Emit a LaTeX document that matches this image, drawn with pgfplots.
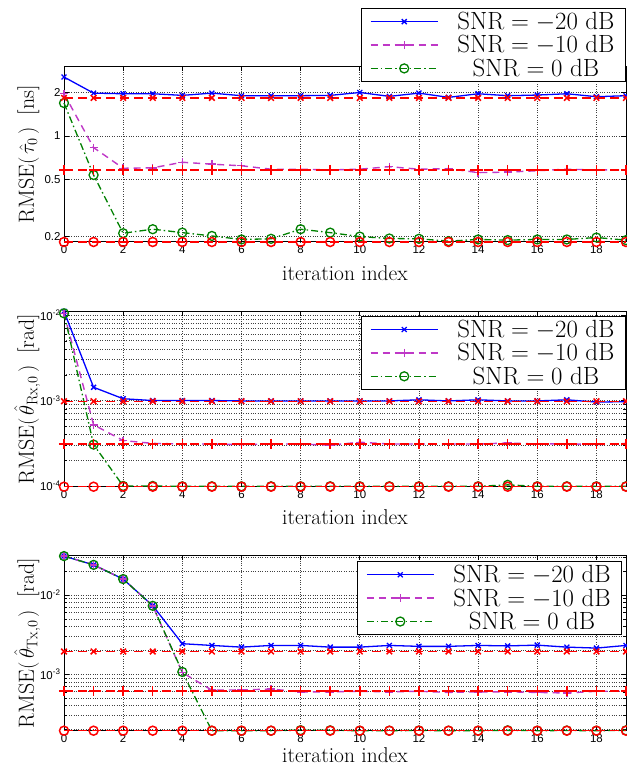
\documentclass[border=0pt]{standalone}
\usepackage{fontspec}
\usepackage{pgfplots}
\usepackage{pgfplotstable}
\pgfplotsset{compat=1.18}
\newfontfamily\tickfont{Liberation Sans}
\definecolor{mblue}{rgb}{0,0,1}
\definecolor{mmag}{rgb}{0.75,0.22,0.78}
\definecolor{mgreen}{rgb}{0,0.5,0}
\definecolor{mred}{rgb}{1,0,0}

\pgfplotstableread{
x b m g r1 r2 r3
0 2.56 1.96 1.69 1.834 0.580 0.1834
1 1.98 0.829 0.535 1.834 0.580 0.1834
2 1.96 0.596 0.211 1.834 0.580 0.1834
3 1.96 0.600 0.225 1.834 0.580 0.1834
4 1.91 0.656 0.213 1.834 0.580 0.1834
5 1.98 0.636 0.202 1.834 0.580 0.1834
6 1.90 0.620 0.191 1.834 0.580 0.1834
7 1.90 0.587 0.193 1.834 0.580 0.1834
8 1.90 0.587 0.225 1.834 0.580 0.1834
9 1.91 0.580 0.213 1.834 0.580 0.1834
10 2.00 0.587 0.200 1.834 0.580 0.1834
11 1.88 0.611 0.194 1.834 0.580 0.1834
12 1.98 0.587 0.193 1.834 0.580 0.1834
13 1.85 0.592 0.186 1.834 0.580 0.1834
14 1.96 0.556 0.191 1.834 0.580 0.1834
15 1.90 0.560 0.189 1.834 0.580 0.1834
16 1.92 0.573 0.191 1.834 0.580 0.1834
17 1.96 0.587 0.191 1.834 0.580 0.1834
18 1.87 0.580 0.197 1.834 0.580 0.1834
19 1.90 0.580 0.189 1.834 0.580 0.1834
}\tA

\pgfplotstableread{
x b m g r1 r2 r3
0 0.0111 0.0105 0.0105 9.8e-4 3.1e-4 9.8e-5
1 1.43e-3 5.2e-4 3.05e-4 9.8e-4 3.1e-4 9.8e-5
2 1.05e-3 3.4e-4 1.0e-4 9.8e-4 3.1e-4 9.8e-5
3 1.0e-3 3.15e-4 1.0e-4 9.8e-4 3.1e-4 9.8e-5
4 1.0e-3 3.1e-4 0.99e-4 9.8e-4 3.1e-4 9.8e-5
5 1.0e-3 3.1e-4 0.99e-4 9.8e-4 3.1e-4 9.8e-5
6 0.99e-3 3.05e-4 0.99e-4 9.8e-4 3.1e-4 9.8e-5
7 0.99e-3 3.1e-4 0.99e-4 9.8e-4 3.1e-4 9.8e-5
8 0.99e-3 3.1e-4 0.99e-4 9.8e-4 3.1e-4 9.8e-5
9 0.99e-3 3.0e-4 0.99e-4 9.8e-4 3.1e-4 9.8e-5
10 0.99e-3 3.25e-4 0.99e-4 9.8e-4 3.1e-4 9.8e-5
11 0.99e-3 3.1e-4 0.99e-4 9.8e-4 3.1e-4 9.8e-5
12 1.02e-3 3.1e-4 0.99e-4 9.8e-4 3.1e-4 9.8e-5
13 0.99e-3 3.1e-4 0.99e-4 9.8e-4 3.1e-4 9.8e-5
14 1.02e-3 3.1e-4 0.99e-4 9.8e-4 3.1e-4 9.8e-5
15 0.99e-3 3.18e-4 1.03e-4 9.8e-4 3.1e-4 9.8e-5
16 0.99e-3 3.1e-4 0.99e-4 9.8e-4 3.1e-4 9.8e-5
17 1.02e-3 3.12e-4 0.99e-4 9.8e-4 3.1e-4 9.8e-5
18 0.96e-3 3.05e-4 0.99e-4 9.8e-4 3.1e-4 9.8e-5
19 0.97e-3 3.15e-4 0.99e-4 9.8e-4 3.1e-4 9.8e-5
}\tB

\pgfplotstableread{
x b m g r1 r2 r3
0 0.031 0.031 0.031 1.94e-3 6.13e-4 1.94e-4
1 0.024 0.024 0.024 1.94e-3 6.13e-4 1.94e-4
2 0.0159 0.0159 0.0159 1.94e-3 6.13e-4 1.94e-4
3 0.00734 0.0073 0.0073 1.94e-3 6.13e-4 1.94e-4
4 0.00243 0.00105 0.00107 1.94e-3 6.13e-4 1.94e-4
5 0.00231 6.3e-4 1.94e-4 1.94e-3 6.13e-4 1.94e-4
6 0.00220 6.35e-4 1.94e-4 1.94e-3 6.13e-4 1.94e-4
7 0.00231 6.5e-4 1.94e-4 1.94e-3 6.13e-4 1.94e-4
8 0.00231 6.0e-4 1.97e-4 1.94e-3 6.13e-4 1.94e-4
9 0.00220 6.0e-4 1.96e-4 1.94e-3 6.13e-4 1.94e-4
10 0.00220 6.1e-4 1.94e-4 1.94e-3 6.13e-4 1.94e-4
11 0.00231 6.0e-4 1.94e-4 1.94e-3 6.13e-4 1.94e-4
12 0.00225 6.1e-4 1.95e-4 1.94e-3 6.13e-4 1.94e-4
13 0.00225 5.9e-4 1.94e-4 1.94e-3 6.13e-4 1.94e-4
14 0.00231 6.0e-4 1.94e-4 1.94e-3 6.13e-4 1.94e-4
15 0.00228 6.0e-4 1.96e-4 1.94e-3 6.13e-4 1.94e-4
16 0.00233 5.9e-4 1.94e-4 1.94e-3 6.13e-4 1.94e-4
17 0.00220 5.8e-4 1.95e-4 1.94e-3 6.13e-4 1.94e-4
18 0.00214 6.1e-4 1.94e-4 1.94e-3 6.13e-4 1.94e-4
19 0.00231 6.1e-4 1.96e-4 1.94e-3 6.13e-4 1.94e-4
}\tC

\pgfplotsset{
  myaxis/.style={
    scale only axis, width=562bp, height=175.5bp,
    anchor=south west,
    xmin=0, xmax=19, xtick={0,2,...,18},
    clip=false,
    axis line style={line width=1bp},
    tick style={black, line width=0.6bp},
    major tick length=5bp, minor tick length=3bp,
    grid style={dotted, black!75, line width=0.7bp},
    xmajorgrids, ymajorgrids,
    tick label style={font=\tickfont\fontsize{11.5}{12}\selectfont},
    /pgf/number format/assume math mode=true,
    xlabel={iteration index},
    xlabel style={font=\fontsize{21.5}{24}\selectfont, inner sep=1bp, yshift=-7bp},
    ylabel style={font=\fontsize{22}{24}\selectfont, at={(axis description cs:-0.0534,0.5)}, anchor=base},
    legend cell align=center,
    legend style={font=\fontsize{25}{25}\selectfont, draw=black, line width=1bp, fill=white,
      inner xsep=9bp, inner ysep=2bp, row sep=0.5bp, column sep=17bp},
    legend image code/.code={\draw[mark repeat=2, mark phase=2] plot coordinates {(0bp,0bp) (33.5bp,0bp) (67bp,0bp)};},
  },
  sblue/.style={color=mblue, line width=1.3bp, mark=x, mark size=3.5bp, mark options={solid}},
  smag/.style={color=mmag, line width=1.4bp, dash pattern=on 7bp off 5bp, mark=+, mark size=4bp, mark options={solid}},
  sgreen/.style={color=mgreen, line width=1.3bp, dash pattern=on 7bp off 3bp on 1.5bp off 3bp, mark=o, mark size=4.5bp, mark options={solid}},
  rx/.style={color=mred, line width=1.5bp, dash pattern=on 9bp off 5bp, mark=x, mark size=4bp, mark options={solid}, forget plot},
  rp/.style={color=mred, line width=1.5bp, dash pattern=on 9bp off 5bp, mark=+, mark size=5bp, mark options={solid}, forget plot},
  ro/.style={color=mred, line width=1.5bp, dash pattern=on 9bp off 5bp, mark=o, mark size=4.5bp, mark options={solid}, forget plot},
}

\begin{document}
\begin{tikzpicture}
\path[use as bounding box] (0,0) rectangle (627bp,767bp);

% Plot 1
\begin{axis}[ymode=log, myaxis, at={(64bp,525bp)},
  ymin=0.1834, ymax=3.03,
  ytick={0.2,0.5,1,2}, yticklabels={0.2,0.5,1,2}, minor ytick={},
  ylabel={RMSE$\Bigl(\,\hat{\tau}_0\,\Bigr)$\hspace{0.55em}[ns]},
  legend style={at={(1,1.335)}, anchor=north east}]
\addplot[sblue] table[x=x,y=b]{\tA};
\addlegendentry{$\mathrm{SNR} = -20\ \mathrm{dB}$}
\addplot[smag] table[x=x,y=m]{\tA};
\addlegendentry{$\mathrm{SNR} = -10\ \mathrm{dB}$}
\addplot[sgreen] table[x=x,y=g]{\tA};
\addlegendentry{$\mathrm{SNR} = 0\ \mathrm{dB}$}
\addplot[rx] table[x=x,y=r1]{\tA};
\addplot[rp] table[x=x,y=r2]{\tA};
\addplot[ro] table[x=x,y=r3]{\tA};
\end{axis}

% Plot 2
\begin{axis}[ymode=log, myaxis, at={(64bp,280.3bp)},
  ymin=9.8e-5, ymax=0.01112,
  ytick={1e-4,1e-3,1e-2},
  yticklabels={10\textsuperscript{-4},10\textsuperscript{-3},10\textsuperscript{-2}},
  minor ytick={2e-4,3e-4,4e-4,5e-4,6e-4,7e-4,8e-4,9e-4,2e-3,3e-3,4e-3,5e-3,6e-3,7e-3,8e-3,9e-3},
  yminorgrids,
  ylabel={RMSE$\Bigl(\,\hat{\theta}_{\mathrm{Rx},0}\,\Bigr)$\hspace{0.55em}[rad]},
  legend style={at={(1,0.975)}, anchor=north east}]
\addplot[sblue] table[x=x,y=b]{\tB};
\addlegendentry{$\mathrm{SNR} = -20\ \mathrm{dB}$}
\addplot[smag] table[x=x,y=m]{\tB};
\addlegendentry{$\mathrm{SNR} = -10\ \mathrm{dB}$}
\addplot[sgreen] table[x=x,y=g]{\tB};
\addlegendentry{$\mathrm{SNR} = 0\ \mathrm{dB}$}
\addplot[rx] table[x=x,y=r1]{\tB};
\addplot[rp] table[x=x,y=r2]{\tB};
\addplot[ro] table[x=x,y=r3]{\tB};
\end{axis}

% Plot 3
\begin{axis}[ymode=log, myaxis, at={(64bp,36.3bp)},
  ymin=1.94e-4, ymax=0.0318,
  ytick={1e-3,1e-2},
  yticklabels={10\textsuperscript{-3},10\textsuperscript{-2}},
  minor ytick={2e-4,3e-4,4e-4,5e-4,6e-4,7e-4,8e-4,9e-4,2e-3,3e-3,4e-3,5e-3,6e-3,7e-3,8e-3,9e-3,2e-2,3e-2},
  yminorgrids,
  xlabel style={yshift=6.5bp},
  ylabel={RMSE$\Bigl(\,\hat{\theta}_{\mathrm{Tx},0}\,\Bigr)$\hspace{0.55em}[rad]},
  legend style={at={(0.993,0.968)}, anchor=north east}]
\addplot[sblue] table[x=x,y=b]{\tC};
\addlegendentry{$\mathrm{SNR} = -20\ \mathrm{dB}$}
\addplot[smag] table[x=x,y=m]{\tC};
\addlegendentry{$\mathrm{SNR} = -10\ \mathrm{dB}$}
\addplot[sgreen] table[x=x,y=g]{\tC};
\addlegendentry{$\mathrm{SNR} = 0\ \mathrm{dB}$}
\addplot[rx] table[x=x,y=r1]{\tC};
\addplot[rp] table[x=x,y=r2]{\tC};
\addplot[ro] table[x=x,y=r3]{\tC};
\end{axis}
\end{tikzpicture}
\end{document}
